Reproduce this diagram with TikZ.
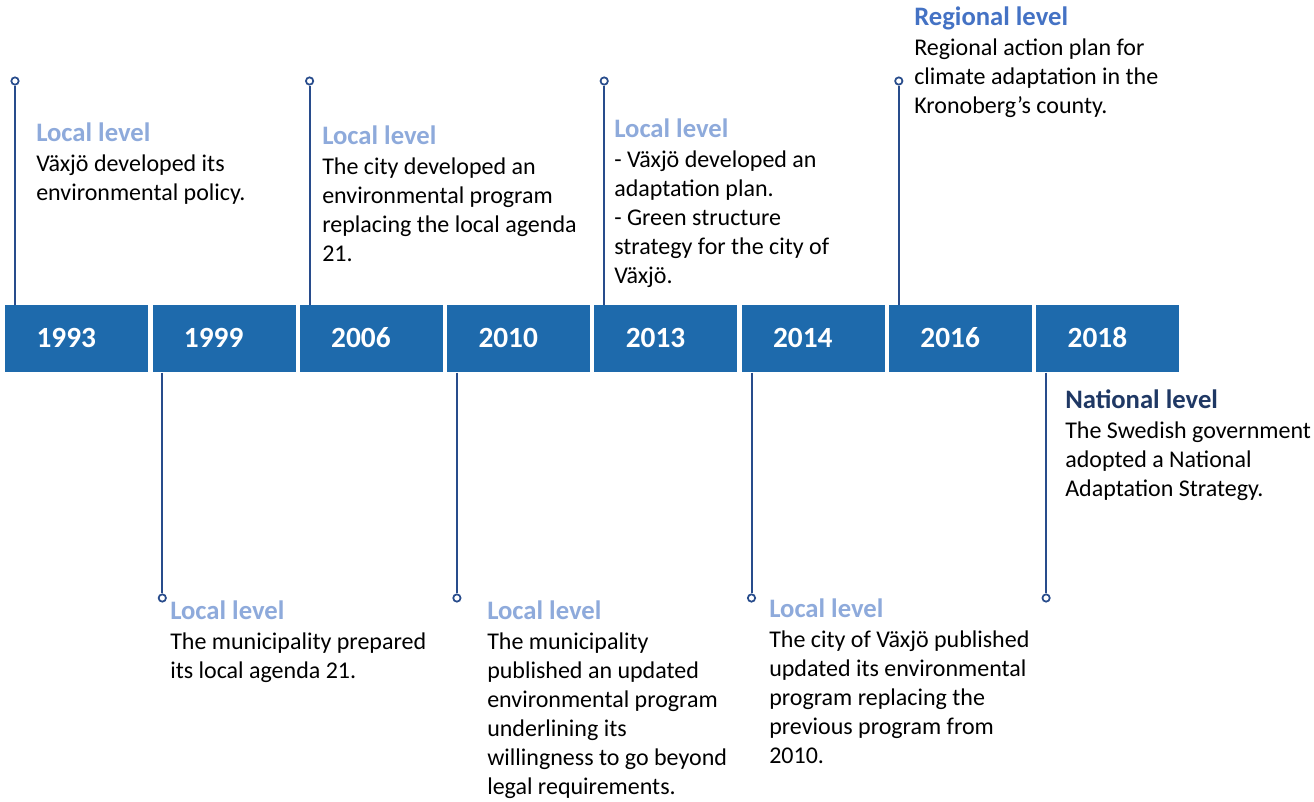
\documentclass[tikz,border=0pt]{standalone}
\usepackage{fontspec}
\setmainfont{Carlito}
\usetikzlibrary{positioning}
\definecolor{barblue}{RGB}{30,106,172}
\definecolor{stemblue}{RGB}{40,76,140}
\definecolor{locallevel}{RGB}{142,170,219}
\definecolor{regionlevel}{RGB}{68,114,196}
\definecolor{nationlevel}{RGB}{31,56,100}
\tikzset{
  yearbox/.style={fill=barblue, text=white, anchor=north west, minimum height=50.25pt, inner xsep=23.5pt, text width=60.25pt, align=left, font=\fontsize{22pt}{26pt}\selectfont\bfseries},
  stem/.style={draw=stemblue, line width=1.5pt},
  dot/.style={circle, draw=stemblue, fill=white, line width=1.3pt, inner sep=0pt, minimum size=5.5pt},
  levelhead/.style={anchor=base west, inner sep=0pt, font=\fontsize{20pt}{24pt}\selectfont\bfseries},
  locallvl/.style={levelhead, text=locallevel},
  eventtext/.style={anchor=base west, inner sep=0pt, align=left, font=\fontsize{18pt}{21.75pt}\selectfont}
}
\begin{document}
\begin{tikzpicture}[x=0.75pt, y=-0.75pt]
\useasboundingbox (0,0) rectangle (1314,801);
\node[yearbox] (y1993) at (5,305) {\raisebox{1.5pt}{1993}};
\node[yearbox] (y1999) at (152.3,305) {\raisebox{1.5pt}{1999}};
\node[yearbox] (y2006) at (299.6,305) {\raisebox{1.5pt}{2006}};
\node[yearbox] (y2010) at (446.9,305) {\raisebox{1.5pt}{2010}};
\node[yearbox] (y2013) at (594.2,305) {\raisebox{1.5pt}{2013}};
\node[yearbox] (y2014) at (741.5,305) {\raisebox{1.5pt}{2014}};
\node[yearbox] (y2016) at (888.8,305) {\raisebox{1.5pt}{2016}};
\node[yearbox] (y2018) at (1036.1,305) {\raisebox{1.5pt}{2018}};

\node[dot] (d1993) at (15,81) {};
\node[dot] (d2006) at (309.6,81) {};
\node[dot] (d2013) at (604.2,81) {};
\node[dot] (d2016) at (898.8,81) {};
\node[dot] (d1999) at (162.3,598) {};
\node[dot] (d2010) at (456.9,598) {};
\node[dot] (d2014) at (751.5,598) {};
\node[dot] (d2018) at (1046.1,598) {};
\draw[stem] ([xshift=7.5pt]y1993.north west) -- (d1993);
\draw[stem] ([xshift=7.5pt]y2006.north west) -- (d2006);
\draw[stem] ([xshift=7.5pt]y2013.north west) -- (d2013);
\draw[stem] ([xshift=7.5pt]y2016.north west) -- (d2016);
\draw[stem] ([xshift=7.5pt]y1999.south west) -- (d1999);
\draw[stem] ([xshift=7.5pt]y2010.south west) -- (d2010);
\draw[stem] ([xshift=7.5pt]y2014.south west) -- (d2014);
\draw[stem] ([xshift=7.5pt]y2018.south west) -- (d2018);

\node[locallvl] (h1993) at (36,141) {Local level};
\node[eventtext] (t1993) at ([yshift=-44.25pt]h1993.base west) {Växjö developed its\\environmental policy.};
\node[locallvl] (h2006) at (322,144) {Local level};
\node[eventtext] (t2006) at ([yshift=-87.75pt]h2006.base west) {The city developed an\\environmental program\\replacing the local agenda\\21.};
\node[locallvl] (h2013) at (614,137) {Local level};
\node[eventtext] (t2013) at ([yshift=-109.5pt]h2013.base west) {- Växjö developed an\\adaptation plan.\\- Green structure\\strategy for the city of\\Växjö.};
\node[levelhead, text=regionlevel] (h2016) at (914,25) {Regional level};
\node[eventtext] (t2016) at ([yshift=-66pt]h2016.base west) {Regional action plan for\\climate adaptation in the\\Kronoberg’s county.};

\node[locallvl] (h1999) at (170,619) {Local level};
\node[eventtext] (t1999) at ([yshift=-44.25pt]h1999.base west) {The municipality prepared\\its local agenda 21.};
\node[locallvl] (h2010) at (487,619) {Local level};
\node[eventtext] (t2010) at ([yshift=-131.25pt]h2010.base west) {The municipality\\published an updated\\environmental program\\underlining its\\willingness to go beyond\\legal requirements.};
\node[locallvl] (h2014) at (769,617) {Local level};
\node[eventtext] (t2014) at ([yshift=-109.5pt]h2014.base west) {The city of Växjö published\\updated its environmental\\program replacing the\\previous program from\\2010.};
\node[levelhead, text=nationlevel] (h2018) at (1065,408) {National level};
\node[eventtext] (t2018) at ([yshift=-66pt]h2018.base west) {The Swedish government\\adopted a National\\Adaptation Strategy.};
\end{tikzpicture}
\end{document}
